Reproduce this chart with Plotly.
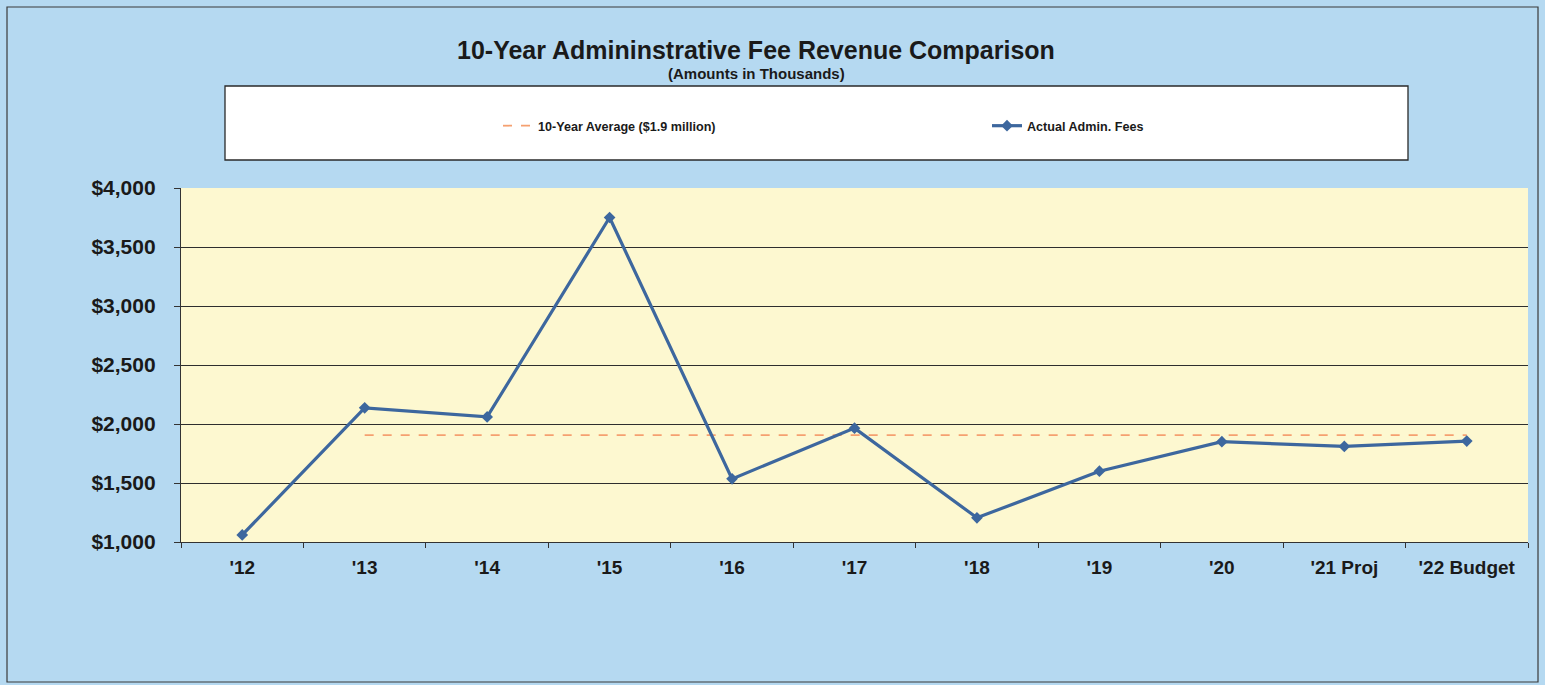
import plotly.graph_objects as go

categories = ["'12", "'13", "'14", "'15", "'16", "'17", "'18", "'19", "'20", "'21 Proj", "'22 Budget"]
actual_fees = [1060, 2137, 2060, 3750, 1535, 1965, 1205, 1600, 1850, 1810, 1855]
avg_categories = categories[1:]
avg_values = [1905] * len(avg_categories)

y_ticks = [1000, 1500, 2000, 2500, 3000, 3500, 4000]
y_tick_labels = ["$" + f"{v:,}" for v in y_ticks]

W, H = 1545, 685
L, R, T, B = 181, 17, 188, 143
pw, ph = W - L - R, H - T - B

def px2x(px):
    return (px - L) / pw

def py2y(py):
    return (H - B - py) / ph

FONT = "Liberation Sans, Arial, sans-serif"
LINE_BLUE = "#3d679e"
AVG_ORANGE = "#f5a070"

fig = go.Figure()
fig.add_trace(go.Scatter(
    x=avg_categories, y=avg_values, mode="lines",
    name="10-Year Average ($1.9 million)",
    line=dict(color=AVG_ORANGE, width=1.8, dash="dash"),
    legend="legend",
))
fig.add_trace(go.Scatter(
    x=categories, y=actual_fees, mode="lines+markers",
    name="Actual Admin. Fees",
    line=dict(color=LINE_BLUE, width=3.2),
    marker=dict(symbol="diamond", size=9, color=LINE_BLUE),
    legend="legend2",
))

# outer border and legend box
fig.add_shape(type="rect", xref="paper", yref="paper",
              x0=px2x(7), x1=px2x(1538), y0=py2y(682), y1=py2y(7),
              line=dict(color="#3a3a3a", width=1.2), fillcolor="rgba(0,0,0,0)", layer="below")
fig.add_shape(type="rect", xref="paper", yref="paper",
              x0=px2x(225), x1=px2x(1408), y0=py2y(160), y1=py2y(86),
              line=dict(color="#2a2a2a", width=1.3), fillcolor="white", layer="below")

fig.add_annotation(text="<b>10-Year Admininstrative Fee Revenue Comparison</b>",
                   xref="paper", yref="paper", x=px2x(756), y=py2y(50),
                   showarrow=False, font=dict(family=FONT, size=25, color="#1a1a1a"),
                   xanchor="center", yanchor="middle")
fig.add_annotation(text="<b>(Amounts in Thousands)</b>",
                   xref="paper", yref="paper", x=px2x(756), y=py2y(74),
                   showarrow=False, font=dict(family=FONT, size=15, color="#1a1a1a"),
                   xanchor="center", yanchor="middle")

legend_common = dict(orientation="h", bgcolor="rgba(0,0,0,0)", borderwidth=0,
                     font=dict(family=FONT, size=12.6, color="#1a1a1a", weight="bold"),
                     yanchor="middle", xanchor="left")

fig.update_layout(
    width=W, height=H,
    margin=dict(l=L, r=R, t=T, b=B),
    paper_bgcolor="#b5d9f1",
    plot_bgcolor="#fdf8d0",
    showlegend=True,
    legend=dict(x=px2x(498), y=py2y(126), **legend_common),
    legend2=dict(x=px2x(987), y=py2y(126), **legend_common),
    xaxis=dict(
        type="category", categoryorder="array", categoryarray=categories,
        showgrid=False, showline=True, linecolor="#333333", linewidth=1.3,
        ticks="outside", tickson="boundaries", ticklen=5, tickcolor="#333333",
        tickfont=dict(family=FONT, size=19, color="#1a1a1a", weight="bold"),
        ticklabelstandoff=8, range=[-0.5, len(categories) - 0.5],
    ),
    yaxis=dict(
        range=[1000, 4000], tickvals=y_ticks, ticktext=y_tick_labels,
        showgrid=True, gridcolor="#2e2e2e", gridwidth=1.2,
        showline=True, linecolor="#333333", linewidth=1.3,
        ticks="outside", ticklen=6, tickcolor="#333333",
        tickfont=dict(family=FONT, size=21, color="#1a1a1a", weight="bold"),
        ticklabelstandoff=14, zeroline=False,
    ),
)

fig.write_html("out.html")
